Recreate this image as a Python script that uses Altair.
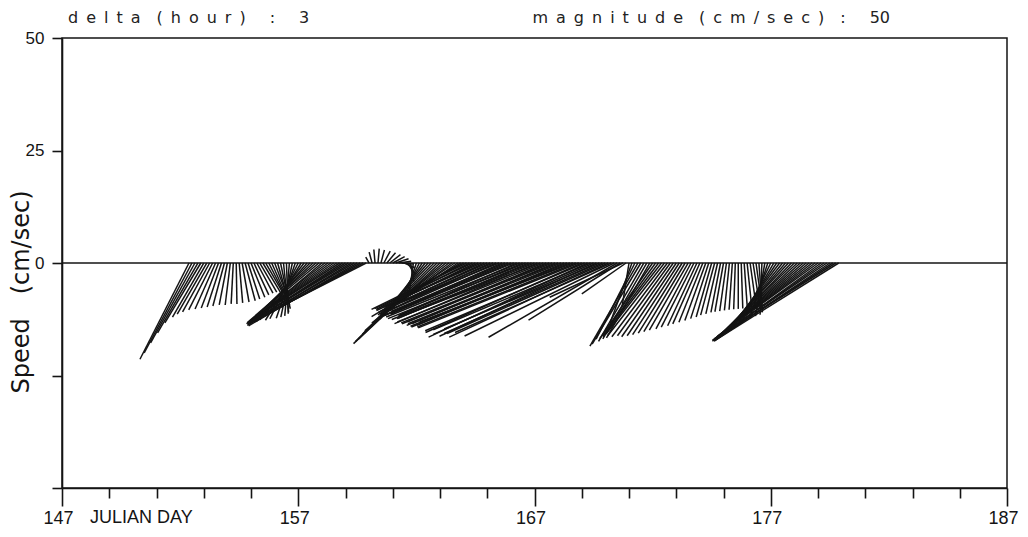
import altair as alt
import numpy as np
import pandas as pd

# ---------------- data ----------------
T0 = 152.375      # Julian day of the first stick
DT = 0.125        # 3-hour sampling

# current speed (cm/s), one row per Julian day
speed = [
    24.0, 22.6, 20.3, 17.9, 15.5,                     # 152.375-152.875
    13.9, 13.1, 12.4, 11.7, 11.2, 10.7, 10.3, 9.9,    # 153
    9.5, 9.4, 9.1, 9.1, 8.9, 8.8, 8.7, 8.4,           # 154
    8.2, 7.8, 7.6, 7.5, 7.5, 7.7, 8.0, 8.5,           # 155
    9.0, 9.7, 10.4, 11.0, 11.3, 11.8, 12.3, 13.0,     # 156
    13.9, 15.0, 16.0, 17.2, 18.1, 19.2, 20.2, 21.0,   # 157
    21.6, 20.5, 22.0, 19.8, 22.6, 21.0, 23.8, 22.5,   # 158
    25.4, 24.0, 26.5, 25.5, 27.9, 26.8, 29.1, 29.6,   # 159
    1.5, 2.5, 3.0, 3.2, 3.0, 3.0, 3.0, 3.0,           # 160
    3.0, 3.0, 2.8, 2.6, 2.5, 3.0, 4.2, 6.0,           # 161
    8.0, 10.3, 12.9, 16.0, 19.2, 22.0, 24.7, 25.8,    # 162
    24.8, 23.0, 21.2, 19.3, 17.7, 20.6, 19.6, 23.1,   # 163
    22.0, 23.5, 21.5, 24.0, 22.5, 25.0, 23.0, 26.0,   # 164
    25.0, 27.0, 24.5, 28.0, 26.0, 29.0, 27.5, 30.0,   # 165
    29.0, 31.0, 28.5, 32.0, 30.0, 33.0, 31.5, 33.5,   # 166
    33.0, 34.5, 32.5, 35.0, 33.5, 35.5, 36.0, 34.5,   # 167
    36.0, 37.0, 35.5, 37.5, 38.0, 36.5, 38.0, 38.5,   # 168
    38.0, 38.5, 39.0, 38.0, 39.0, 38.5, 37.5, 38.5,   # 169
    38.5, 39.0, 38.0, 37.0, 33.0, 24.0, 18.0, 12.0,   # 170
    9.7, 14.2, 19.0, 21.3, 21.0, 20.1, 19.5, 19.2,    # 171
    20.5, 20.0, 20.5, 20.0, 20.5, 20.5, 20.0, 20.0,   # 172
    19.5, 19.0, 18.4, 17.8, 17.2, 16.6, 16.0, 15.4,   # 173
    14.8, 14.2, 13.6, 13.0, 12.5, 12.0, 11.6, 11.2,   # 174
    11.0, 10.8, 10.6, 10.4, 10.3, 10.2, 10.1, 10.0,   # 175
    10.0, 10.1, 10.2, 10.5, 11.0, 11.5, 12.0, 12.8,   # 176
    14.8, 16.1, 17.4, 18.5, 19.7, 20.9, 22.1, 23.0,   # 177
    24.0, 24.7, 25.5, 26.3, 26.8, 27.0, 27.2, 27.4,   # 178
    27.6, 28.5, 29.3, 30.2, 31.0, 31.9, 32.3, 32.6,   # 179
]

# direction the current flows toward (degrees clockwise from north)
direction = [
    207, 208, 209, 210, 211,                          # 152
    210, 210, 209, 207, 204, 201, 198, 195,           # 153
    191, 187, 183, 179, 175, 170, 165, 162,           # 154
    158, 155, 152, 150, 149, 150, 153, 156,           # 155
    159, 164, 168, 174, 178, 185, 192, 199,           # 156
    207, 212, 218, 221, 225, 227, 229, 230,           # 157
    230, 232, 233, 234, 235, 236, 237, 237,           # 158
    238, 239, 239, 240, 240, 241, 242, 243,           # 159
    330, 345, 355, 5, 15, 28, 40, 52,                 # 160
    62, 72, 82, 95, 115, 145, 170, 188,               # 161
    198, 207, 214, 219, 222, 224, 225, 226,           # 162
    227, 229, 231, 232, 233, 236, 236, 239,           # 163
    242, 244, 243, 245, 244, 245, 246, 245,           # 164
    246, 245, 247, 246, 248, 246, 247, 247,           # 165
    247, 248, 246, 248, 247, 248, 247, 248,           # 166
    248, 247, 249, 248, 247, 248, 248, 247,           # 167
    248, 248, 247, 248, 248, 249, 248, 248,           # 168
    246, 247, 245, 247, 246, 245, 247, 246,           # 169
    246, 245, 246, 244, 240, 238, 245, 235,           # 170
    189, 200, 207, 210, 211, 210, 210, 210,           # 171
    215, 216, 217, 218, 218, 217, 216, 215,           # 172
    214, 213, 212, 211, 210, 208, 207, 205,           # 173
    204, 202, 200, 198, 196, 195, 193, 191,           # 174
    190, 188, 186, 184, 182, 180, 178, 176,           # 175
    174, 172, 171, 172, 176, 182, 190, 198,           # 176
    206, 210, 214, 217, 219, 221, 223, 224,           # 177
    226, 227, 228, 229, 230, 231, 232, 233,           # 178
    234, 234, 235, 236, 236, 237, 238, 238,           # 179
]

x_ticks = list(range(147, 188, 2))
y_ticks = [-50, -25, 0, 25, 50]

# ---------------- geometry ----------------
W, H = 945, 450
XMIN, XMAX = 147, 187
YMIN, YMAX = -50, 50
px_per_day = W / (XMAX - XMIN)
px_per_cms = H / (YMAX - YMIN)
k = px_per_cms / px_per_day          # days of x-axis per cm/s (same magnitude scale)

n = len(speed)
t = T0 + DT * np.arange(n)
rad = np.deg2rad(np.array(direction, dtype=float))
spd = np.array(speed, dtype=float)
u = spd * np.sin(rad)
v = spd * np.cos(rad)
sticks = pd.DataFrame({"t": t, "t_end": t + u * k, "zero": 0.0, "v": v})

INK = "#141414"
x_scale = alt.Scale(domain=[XMIN, XMAX], nice=False, zero=False)
y_scale = alt.Scale(domain=[YMIN, YMAX], nice=False, zero=False)

x_axis = alt.Axis(
    values=x_ticks,
    labelExpr="datum.value % 10 == 7 ? datum.label : ''",
    tickSize={"condition": {"test": "datum.value % 10 == 7", "value": 18}, "value": 10},
    labelFontSize=18,
    labelPadding=3,
    labelOffset=-4,
    labelFlush=False,
    title=None,
)
y_axis = alt.Axis(
    values=y_ticks,
    labelExpr="datum.value >= 0 ? datum.label : ''",
    tickSize=10,
    labelFontSize=17,
    labelPadding=8,
    title=None,
)

zero_line = alt.Chart(pd.DataFrame({"y": [0.0]})).mark_rule(
    color=INK, strokeWidth=1.4
).encode(y=alt.Y("y:Q", scale=y_scale, axis=y_axis))

stick_layer = alt.Chart(sticks).mark_rule(
    color=INK, strokeWidth=1.5
).encode(
    x=alt.X("t:Q", scale=x_scale, axis=x_axis),
    x2="t_end:Q",
    y=alt.Y("zero:Q", scale=y_scale, axis=y_axis),
    y2="v:Q",
)

h1_text = "\u2002".join("delta") + "\u2002\u2002" + "\u2002".join("(hour)") + "\u2002\u2002\u2002:\u2002\u2002\u20023"
h2_text = "\u2002".join("magnitude") + "\u2002\u2002" + "\u2002".join("(cm/sec)") + "\u2002\u2002:\u2002\u2002\u200250"

head1 = alt.Chart(pd.DataFrame({"s": [h1_text]})).mark_text(
    font="DejaVu Sans", fontSize=16, color="#222", align="left", baseline="middle"
).encode(text="s:N", x=alt.value(6), y=alt.value(-20))

head2 = alt.Chart(pd.DataFrame({"s": [h2_text]})).mark_text(
    font="DejaVu Sans", fontSize=16, color="#222", align="right", baseline="middle"
).encode(text="s:N", x=alt.value(828), y=alt.value(-20))

julian = alt.Chart(pd.DataFrame({"s": ["JULIAN DAY"]})).mark_text(
    font="Liberation Sans", fontSize=18, color=INK, align="left", baseline="middle"
).encode(text="s:N", x=alt.value(28), y=alt.value(480))

ytitle = alt.Chart(pd.DataFrame({"s": ["Speed\u2002\u2002(cm/sec)"]})).mark_text(
    font="DejaVu Sans", fontSize=24, color=INK, align="center", baseline="middle", angle=270
).encode(text="s:N", x=alt.value(-40), y=alt.value(254))

chart = alt.layer(zero_line, stick_layer, head1, head2, julian, ytitle).properties(
    width=W,
    height=H,
    autosize="none",
    padding={"left": 54, "top": 30, "right": 12, "bottom": 41},
    background="white",
).configure_view(
    stroke=INK, strokeWidth=1.5
).configure_axis(
    grid=False,
    domainColor=INK,
    domainWidth=1.6,
    tickColor=INK,
    tickWidth=1.6,
    labelColor=INK,
    labelFont="Liberation Sans",
)

chart.save("out.html", embed_options={"renderer": "svg", "actions": False})
